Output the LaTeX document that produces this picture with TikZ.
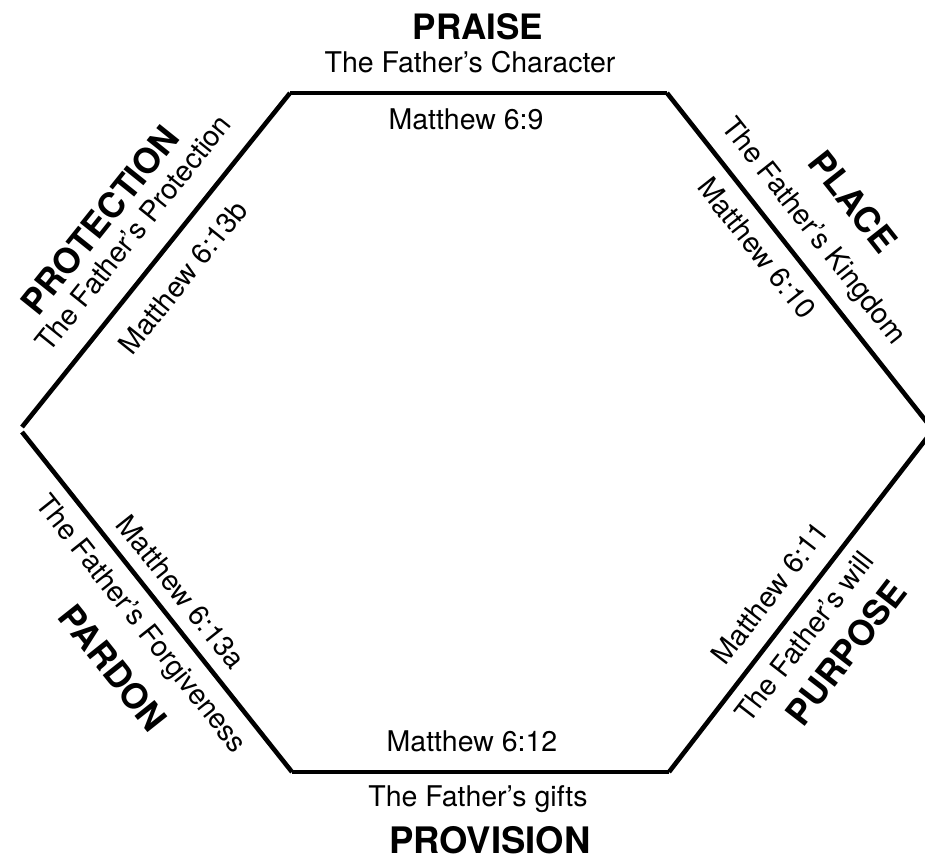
\documentclass[tikz,border=0pt]{standalone}
\usepackage{fontspec}
\setmainfont{TeX Gyre Heros}
\begin{document}
\begin{tikzpicture}[x=1pt,y=-1pt]
\tikzset{
  edge/.style={line width=4.6pt, line cap=butt},
  lbl/.style={inner sep=0pt, text height=20.5pt, text depth=0pt, font=\fontsize{28.5}{30}\selectfont},
  head/.style={inner sep=0pt, text height=25.2pt, text depth=0pt, font=\fontsize{35}{38}\selectfont\bfseries},
  bighead/.style={inner sep=0pt, text height=26.3pt, text depth=0pt, font=\fontsize{36.5}{40}\selectfont\bfseries},
}
\useasboundingbox (0,0) rectangle (925,857);
\clip (0,0) rectangle (925,857);

% vertices
\coordinate (tl) at (290,93);
\coordinate (tr) at (667,93);
\coordinate (rv) at (933,430);
\coordinate (br) at (669,772);
\coordinate (bl) at (292,772);
\coordinate (lu) at (22,427);
\coordinate (ld) at (22,432);

% edges
\draw[edge] (tl) -- (tr);
\draw[edge] (tr) -- (rv);
\draw[edge] (rv) -- (br);
\draw[edge] (br) -- (bl);
\draw[edge] (bl) -- (ld);
\draw[edge] (lu) -- (tl);

% top
\node[head] (praise) at (478,27) {PRAISE};
\node[lbl] (praiseT) at (470,62) {The Father’s Character};
\node[lbl] (praiseM) at (466,119) {Matthew 6:9};

% upper right
\node[head, rotate=-51.7] (place) at (853,202) {PLACE};
\node[lbl, rotate=-51.7] (placeT) at (815,230) {The Father’s Kingdom};
\node[lbl, rotate=-51.7] (placeM) at (757,248) {Matthew 6:10};

% lower right
\node[lbl, rotate=52.3] (purpM) at (770,593) {Matthew 6:11};
\node[lbl, rotate=52.3] (purpT) at (804,637) {The Father’s will};
\node[head, rotate=52.3] (purp) at (846,653) {PURPOSE};

% bottom
\node[lbl] (provM) at (472,741) {Matthew 6:12};
\node[lbl] (provT) at (478,796) {The Father’s gifts};
\node[bighead] (prov) at (490,840) {PROVISION};

% lower left
\node[lbl, rotate=-51.5] (pardM) at (181,592) {Matthew 6:13a};
\node[lbl, rotate=-51.5] (pardT) at (142,623) {The Father’s Forgiveness};
\node[head, rotate=-51.5] (pard) at (113,668) {PARDON};

% upper left
\node[head, rotate=51.3] (prot) at (100,220) {PROTECTION};
\node[lbl, rotate=51.3] (protT) at (133,233) {The Father’s Protection};
\node[lbl, rotate=51.3] (protM) at (183,277) {Matthew 6:13b};
\end{tikzpicture}
\end{document}
